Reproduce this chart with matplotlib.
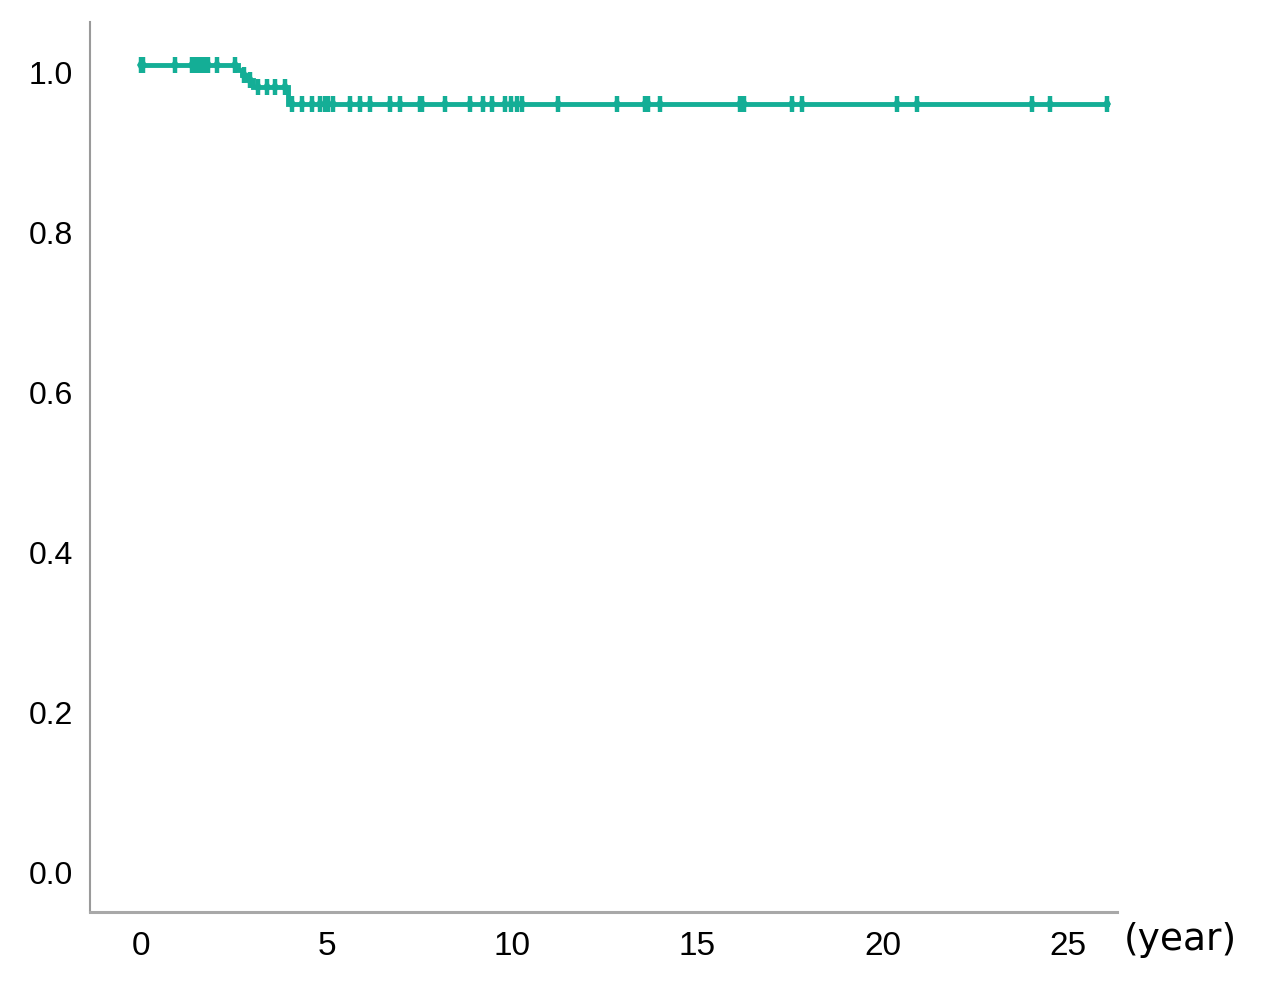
import matplotlib
matplotlib.use("Agg")
import matplotlib.pyplot as plt
import matplotlib.transforms as mtransforms
import numpy as np

# Kaplan-Meier step curve (event times and survival after each event)
event_times = [2.61, 2.72, 2.86, 3.02, 3.96]
event_surv = [0.994, 0.988, 0.981, 0.9725, 0.951]
end_time = 26.05

# censored observations (years)
censor_times = [0.0, 0.05, 0.92, 1.37, 1.45, 1.52, 1.6, 1.7, 1.8, 2.05, 2.53,
                2.78, 2.95, 3.15, 3.4, 3.61, 3.88,
                4.06, 4.33, 4.6, 4.82, 4.95, 5.05, 5.18, 5.63, 5.9, 6.17,
                6.71, 6.98, 7.52, 7.58, 8.19, 8.87, 9.22, 9.46, 9.81, 9.97,
                10.13, 10.27, 11.25, 12.82, 13.58, 13.67, 13.99, 16.15, 16.25,
                17.55, 17.82, 20.37, 20.91, 24.03, 24.5, 26.05]

x_ticks = [0, 5, 10, 15, 20, 25]
y_ticks = [0.0, 0.2, 0.4, 0.6, 0.8, 1.0]
x_unit = "(year)"

color = "#14AE96"

fig = plt.figure(figsize=(12.69, 10), dpi=100)
ax = fig.add_axes([90 / 1269, 88 / 1000, 1027 / 1269, 890 / 1000])

# build step path
xs = [0.0]
ys = [1.0]
cur = 1.0
for t, s in zip(event_times, event_surv):
    xs += [t, t]
    ys += [cur, s]
    cur = s
xs.append(end_time)
ys.append(cur)
ax.plot(xs, ys, color=color, lw=3.5, solid_joinstyle="miter", zorder=3)


def surv_at(t):
    s = 1.0
    for et, es in zip(event_times, event_surv):
        if t >= et:
            s = es
    return s


cy = [surv_at(t) for t in censor_times]
ax.plot(censor_times, cy, ls="none", marker="|", ms=11, mew=3.2, color=color, zorder=4)
ax.plot(censor_times, cy, ls="none", marker="d", ms=7, mew=0, color=color, zorder=4)

ax.set_xlim(-1.375, 26.31)
ax.set_ylim(-0.0575, 1.054)

for side in ["top", "right"]:
    ax.spines[side].set_visible(False)
ax.spines["left"].set_color("#9a9a9a")
ax.spines["left"].set_linewidth(1.5)
ax.spines["bottom"].set_color("#a8a8a8")
ax.spines["bottom"].set_linewidth(2.2)

ax.set_xticks(x_ticks)
ax.set_xticklabels([str(v) for v in x_ticks], fontfamily="Liberation Sans", fontsize=24)
ax.set_yticks(y_ticks)
ax.set_yticklabels([f"{v:.1f}" for v in y_ticks], fontfamily="Liberation Sans", fontsize=23)
ax.tick_params(axis="both", length=0)
ax.tick_params(axis="x", pad=14)
ax.tick_params(axis="y", pad=12)

off = mtransforms.ScaledTranslation(0, -7 / 100, fig.dpi_scale_trans)
for lab in ax.get_yticklabels():
    lab.set_transform(lab.get_transform() + off)

fig.text(1180 / 1269, 1 - 940 / 1000, x_unit, ha="center", va="center",
         fontfamily="DejaVu Sans", fontsize=27)

fig.savefig("out.png", dpi=100)
